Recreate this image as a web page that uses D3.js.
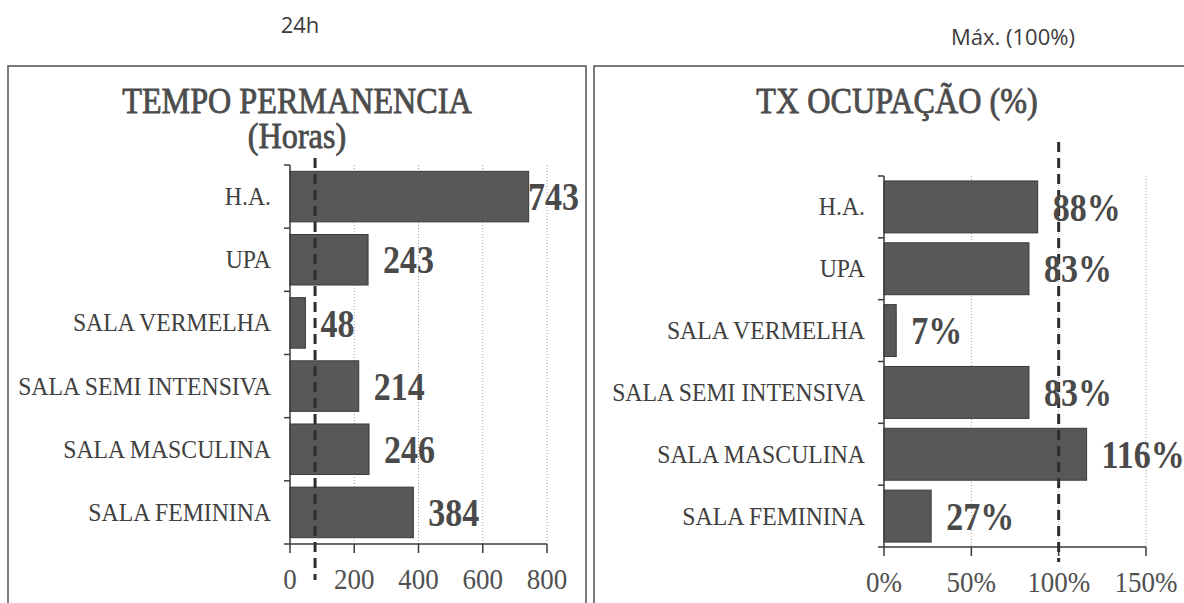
<!DOCTYPE html>
<html>
<head>
<meta charset="utf-8">
<script src="https://cdn.jsdelivr.net/npm/d3@7"></script>
<style>
    body { margin: 0; background: #ffffff; }
    .panel-border { fill: none; stroke: #505050; stroke-width: 1.5; }
    .note { font-family: "Open Sans", sans-serif; font-size: 22px; fill: #3c3c3c; }
    .title { font-family: "Liberation Serif", serif; font-size: 35px; fill: #4c4c4c; stroke: #4c4c4c; stroke-width: 0.8; }
    .cat-label { font-family: "Liberation Serif", serif; font-size: 25px; fill: #404040; }
    .value-label { font-family: "Liberation Serif", serif; font-weight: bold; font-size: 40px; fill: #4a4a4a; }
    .tick-label { font-family: "Liberation Serif", serif; font-size: 30px; fill: #505050; }
    .bar { fill: #585858; stroke: #3a3a3a; stroke-width: 1; }
    .grid { stroke: #a0a0a0; stroke-width: 1; stroke-dasharray: 1,2; }
    .axis-line { stroke: #3a3a3a; stroke-width: 1.5; }
    .ref-line { stroke: #2e2e2e; stroke-width: 3; stroke-dasharray: 10,6; }
</style>
</head>
<body>
<div id="chart"></div>
<script>

// **********************************************************
//                          Data
// **********************************************************

const categories = ["H.A.", "UPA", "SALA VERMELHA", "SALA SEMI INTENSIVA", "SALA MASCULINA", "SALA FEMININA"];

const hours = [743, 243, 48, 214, 246, 384];        // tempo de permanencia (horas)
const occupancy = [88, 83, 7, 83, 116, 27];         // taxa de ocupacao (%)

const hourTicks = [0, 200, 400, 600, 800];
const pctTicks = [0, 50, 100, 150];

// reference lines; the 24h line sits where the original drew it by hand
const hoursRef = 78;
const pctRef = 100;


// **********************************************************
//                   Container for diagram
// **********************************************************

const svg = d3.select("#chart")
    .append("svg")
    .attr("width", 1184)
    .attr("height", 603);

// the scanned fonts are narrow, so texts get squeezed horizontally
const squeeze = (x, y, sx) => "translate(" + x + "," + y + ") scale(" + sx + ",1)";

// notes above the panels
svg.append("text").attr("class", "note")
    .attr("x", 300).attr("y", 33)
    .attr("text-anchor", "middle")
    .text("24h");

svg.append("text").attr("class", "note")
    .attr("x", 1013).attr("y", 45)
    .attr("text-anchor", "middle")
    .text("Máx. (100%)");


// **********************************************************
//                         Drawing
// **********************************************************

function drawPanel(opts) {

    const g = svg.append("g");

    // frame
    g.append("rect")
        .attr("class", "panel-border")
        .attr("x", opts.box[0])
        .attr("y", opts.box[1])
        .attr("width", opts.box[2] - opts.box[0])
        .attr("height", opts.box[3] - opts.box[1]);

    // title lines
    opts.title.forEach((t, i) => {
        g.append("text")
            .attr("class", "title")
            .attr("transform", squeeze((opts.box[0] + opts.box[2]) / 2, 113 + i * 35, 0.92))
            .attr("text-anchor", "middle")
            .text(t);
    });

    const xScale = d3.scaleLinear()
        .domain(opts.domain)
        .range(opts.xRange);

    const yScale = d3.scaleBand()
        .domain(categories)
        .range(opts.yRange)
        .paddingInner(opts.padding)
        .paddingOuter(opts.padding / 2);

    const [x0, x1] = opts.xRange;
    const [yTop, yBottom] = opts.yRange;

    // dotted gridlines
    g.selectAll(".grid")
        .data(opts.ticks.filter((d) => d !== 0))
        .enter()
        .append("line")
        .attr("class", "grid")
        .attr("x1", (d) => xScale(d))
        .attr("x2", (d) => xScale(d))
        .attr("y1", yTop)
        .attr("y2", yBottom);

    // bars
    const data = categories.map((c, i) => ({ name: c, value: opts.values[i] }));

    g.selectAll(".bar")
        .data(data)
        .enter()
        .append("rect")
        .attr("class", "bar")
        .attr("x", xScale(0))
        .attr("y", (d) => yScale(d.name))
        .attr("width", (d) => xScale(d.value) - xScale(0))
        .attr("height", yScale.bandwidth());

    // vertical axis with ticks between categories
    g.append("line")
        .attr("class", "axis-line")
        .attr("x1", x0).attr("x2", x0)
        .attr("y1", yTop).attr("y2", yBottom);

    g.selectAll(".cat-tick")
        .data(d3.range(categories.length + 1))
        .enter()
        .append("line")
        .attr("class", "axis-line")
        .attr("x1", x0 - 6).attr("x2", x0)
        .attr("y1", (i) => yTop + i * yScale.step())
        .attr("y2", (i) => yTop + i * yScale.step());

    // horizontal axis
    g.append("line")
        .attr("class", "axis-line")
        .attr("x1", x0).attr("x2", x1)
        .attr("y1", yBottom).attr("y2", yBottom);

    g.selectAll(".x-tick")
        .data(opts.ticks)
        .enter()
        .append("line")
        .attr("class", "axis-line")
        .attr("x1", (d) => xScale(d)).attr("x2", (d) => xScale(d))
        .attr("y1", yBottom).attr("y2", yBottom + 9);

    g.selectAll(".tick-label")
        .data(opts.ticks)
        .enter()
        .append("text")
        .attr("class", "tick-label")
        .attr("transform", (d) => squeeze(xScale(d), yBottom + 45, 0.9))
        .attr("text-anchor", "middle")
        .text(opts.tickFormat);

    // category names
    g.selectAll(".cat-label")
        .data(data)
        .enter()
        .append("text")
        .attr("class", "cat-label")
        .attr("transform", (d) => squeeze(x0 - 19, yScale(d.name) + yScale.bandwidth() / 2, 0.95))
        .attr("dy", "0.34em")
        .attr("text-anchor", "end")
        .text((d) => d.name);

    // reference dashed line
    g.append("line")
        .attr("class", "ref-line")
        .attr("x1", xScale(opts.ref)).attr("x2", xScale(opts.ref))
        .attr("y1", opts.refSpan[0]).attr("y2", opts.refSpan[1]);

    // values at the bar ends (kept inside the plot when too long)
    g.selectAll(".value-label")
        .data(data)
        .enter()
        .append("text")
        .attr("class", "value-label")
        .attr("transform", (d) => squeeze(Math.min(xScale(d.value) + 15, x1 - 19),
                                          yScale(d.name) + yScale.bandwidth() / 2, 0.85))
        .attr("dy", "0.34em")
        .text((d) => opts.valueFormat(d.value));
}

drawPanel({
    box: [8, 66, 586, 640],
    title: ["TEMPO PERMANENCIA", "(Horas)"],
    values: hours,
    domain: [0, 800],
    xRange: [290, 547],
    yRange: [165, 544],
    padding: 0.2,
    ticks: hourTicks,
    tickFormat: (d) => d,
    valueFormat: (d) => d,
    ref: hoursRef,
    refSpan: [158, 580]
});

drawPanel({
    box: [594, 66, 1200, 640],
    title: ["TX OCUPAÇÃO (%)"],
    values: occupancy,
    domain: [0, 150],
    xRange: [884, 1146],
    yRange: [176, 547],
    padding: 0.16,
    ticks: pctTicks,
    tickFormat: (d) => d + "%",
    valueFormat: (d) => d + "%",
    ref: pctRef,
    refSpan: [142, 562]
});

</script>
</body>
</html>
